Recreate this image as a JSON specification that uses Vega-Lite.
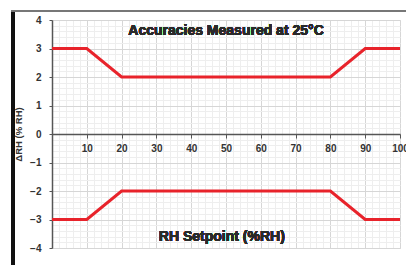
{
  "$schema": "https://vega.github.io/schema/vega-lite/v6.json",
  "width": 348,
  "height": 228,
  "autosize": {"type": "none"},
  "padding": {"left": 52, "top": 20, "right": 6, "bottom": 17},
  "background": "white",
  "config": {
    "view": {"stroke": "#dddddd", "strokeWidth": 1},
    "font": "Liberation Sans"
  },
  "data": {
    "values": [
      {"rh": 0, "acc": 3, "band": "upper"},
      {"rh": 10, "acc": 3, "band": "upper"},
      {"rh": 20, "acc": 2, "band": "upper"},
      {"rh": 80, "acc": 2, "band": "upper"},
      {"rh": 90, "acc": 3, "band": "upper"},
      {"rh": 100, "acc": 3, "band": "upper"},
      {"rh": 0, "acc": -3, "band": "lower"},
      {"rh": 10, "acc": -3, "band": "lower"},
      {"rh": 20, "acc": -2, "band": "lower"},
      {"rh": 80, "acc": -2, "band": "lower"},
      {"rh": 90, "acc": -3, "band": "lower"},
      {"rh": 100, "acc": -3, "band": "lower"}
    ]
  },
  "resolve": {"axis": {"x": "independent", "y": "independent"}},
  "layer": [
    {
      "mark": {"type": "line", "strokeOpacity": 0},
      "encoding": {
        "x": {"field": "rh", "type": "quantitative", "scale": {"domain": [0, 100], "nice": false},
          "axis": {"orient": "top", "grid": true, "gridColor": "#eeeeee", "gridWidth": 1, "labels": false, "ticks": false, "domain": false, "title": null,
            "values": [2,4,6,8,12,14,16,18,22,24,26,28,32,34,36,38,42,44,46,48,52,54,56,58,62,64,66,68,72,74,76,78,82,84,86,88,92,94,96,98]}},
        "y": {"field": "acc", "type": "quantitative", "scale": {"domain": [-4, 4], "nice": false},
          "axis": {"orient": "right", "grid": true, "gridColor": "#eeeeee", "gridWidth": 1, "labels": false, "ticks": false, "domain": false, "title": null,
            "values": [-3.8,-3.6,-3.4,-3.2,-2.8,-2.6,-2.4,-2.2,-1.8,-1.6,-1.4,-1.2,-0.8,-0.6,-0.4,-0.2,0.2,0.4,0.6,0.8,1.2,1.4,1.6,1.8,2.2,2.4,2.6,2.8,3.2,3.4,3.6,3.8]}},
        "detail": {"field": "band"}
      }
    },
    {
      "mark": {"type": "line", "strokeOpacity": 0},
      "encoding": {
        "x": {"field": "rh", "type": "quantitative",
          "axis": {"orient": "top", "grid": true, "gridColor": "#d6d6d6", "gridWidth": 1, "labels": false, "ticks": false, "domain": false, "title": null,
            "values": [10,20,30,40,50,60,70,80,90,100]}},
        "y": {"field": "acc", "type": "quantitative",
          "axis": {"orient": "right", "grid": true, "gridColor": "#d6d6d6", "gridWidth": 1, "labels": false, "ticks": false, "domain": false, "title": null,
            "values": [-4,-3,-2,-1,1,2,3,4]}},
        "detail": {"field": "band"}
      }
    },
    {
      "mark": {"type": "line", "color": "#e8232b", "strokeWidth": 3, "clip": false},
      "encoding": {
        "x": {"field": "rh", "type": "quantitative",
          "axis": {"orient": "bottom", "offset": -114, "grid": false, "values": [10,20,30,40,50,60,70,80,90,100],
            "domainColor": "#555555", "domainWidth": 1.5, "tickColor": "#555555", "tickSize": 4,
            "labelFont": "Liberation Sans", "labelFontWeight": "bold", "labelFontSize": 10, "labelColor": "#333333", "labelPadding": 5, "labelFlush": false, "labelOverlap": false,
            "title": null}},
        "y": {"field": "acc", "type": "quantitative",
          "axis": {"orient": "left", "grid": false, "values": [-4,-3,-2,-1,0,1,2,3,4],
            "domainColor": "#555555", "domainWidth": 1.5, "tickColor": "#555555", "tickSize": 3,
            "labelFont": "Liberation Sans", "labelFontWeight": "bold", "labelFontSize": 10, "labelColor": "#333333", "labelPadding": 8,
            "title": "ΔRH (% RH)", "titleFont": "Liberation Sans", "titleFontWeight": "bold", "titleFontSize": 9.5, "titleColor": "#333333", "titleX": -29}},
        "detail": {"field": "band"}
      }
    },
    {
      "mark": {"type": "text", "font": "Liberation Sans", "fontWeight": "bold", "fontSize": 14, "color": "#2a2a2a", "baseline": "middle", "align": "center"},
      "encoding": {
        "x": {"datum": 50, "type": "quantitative", "axis": null},
        "y": {"datum": 3.6, "type": "quantitative", "axis": null},
        "text": {"value": "Accuracies Measured at 25°C"}
      }
    },
    {
      "mark": {"type": "text", "font": "Liberation Sans", "fontWeight": "bold", "fontSize": 14, "color": "#2a2a2a", "baseline": "middle", "align": "center"},
      "encoding": {
        "x": {"datum": 48.8, "type": "quantitative", "axis": null},
        "y": {"datum": -3.6, "type": "quantitative", "axis": null},
        "text": {"value": "RH Setpoint (%RH)"}
      }
    },
    {
      "mark": {"type": "rule", "color": "#111111", "strokeWidth": 3, "clip": false},
      "encoding": {
        "x": {"datum": -11.2, "type": "quantitative", "axis": null},
        "y": {"datum": 4.32, "type": "quantitative", "axis": null},
        "y2": {"datum": -4.7}
      }
    },
    {
      "mark": {"type": "rule", "color": "#777777", "strokeWidth": 1.5, "clip": false},
      "encoding": {
        "x": {"datum": -11.6, "type": "quantitative", "axis": null},
        "x2": {"datum": 102},
        "y": {"datum": 4.32, "type": "quantitative", "axis": null}
      }
    }
  ]
}
